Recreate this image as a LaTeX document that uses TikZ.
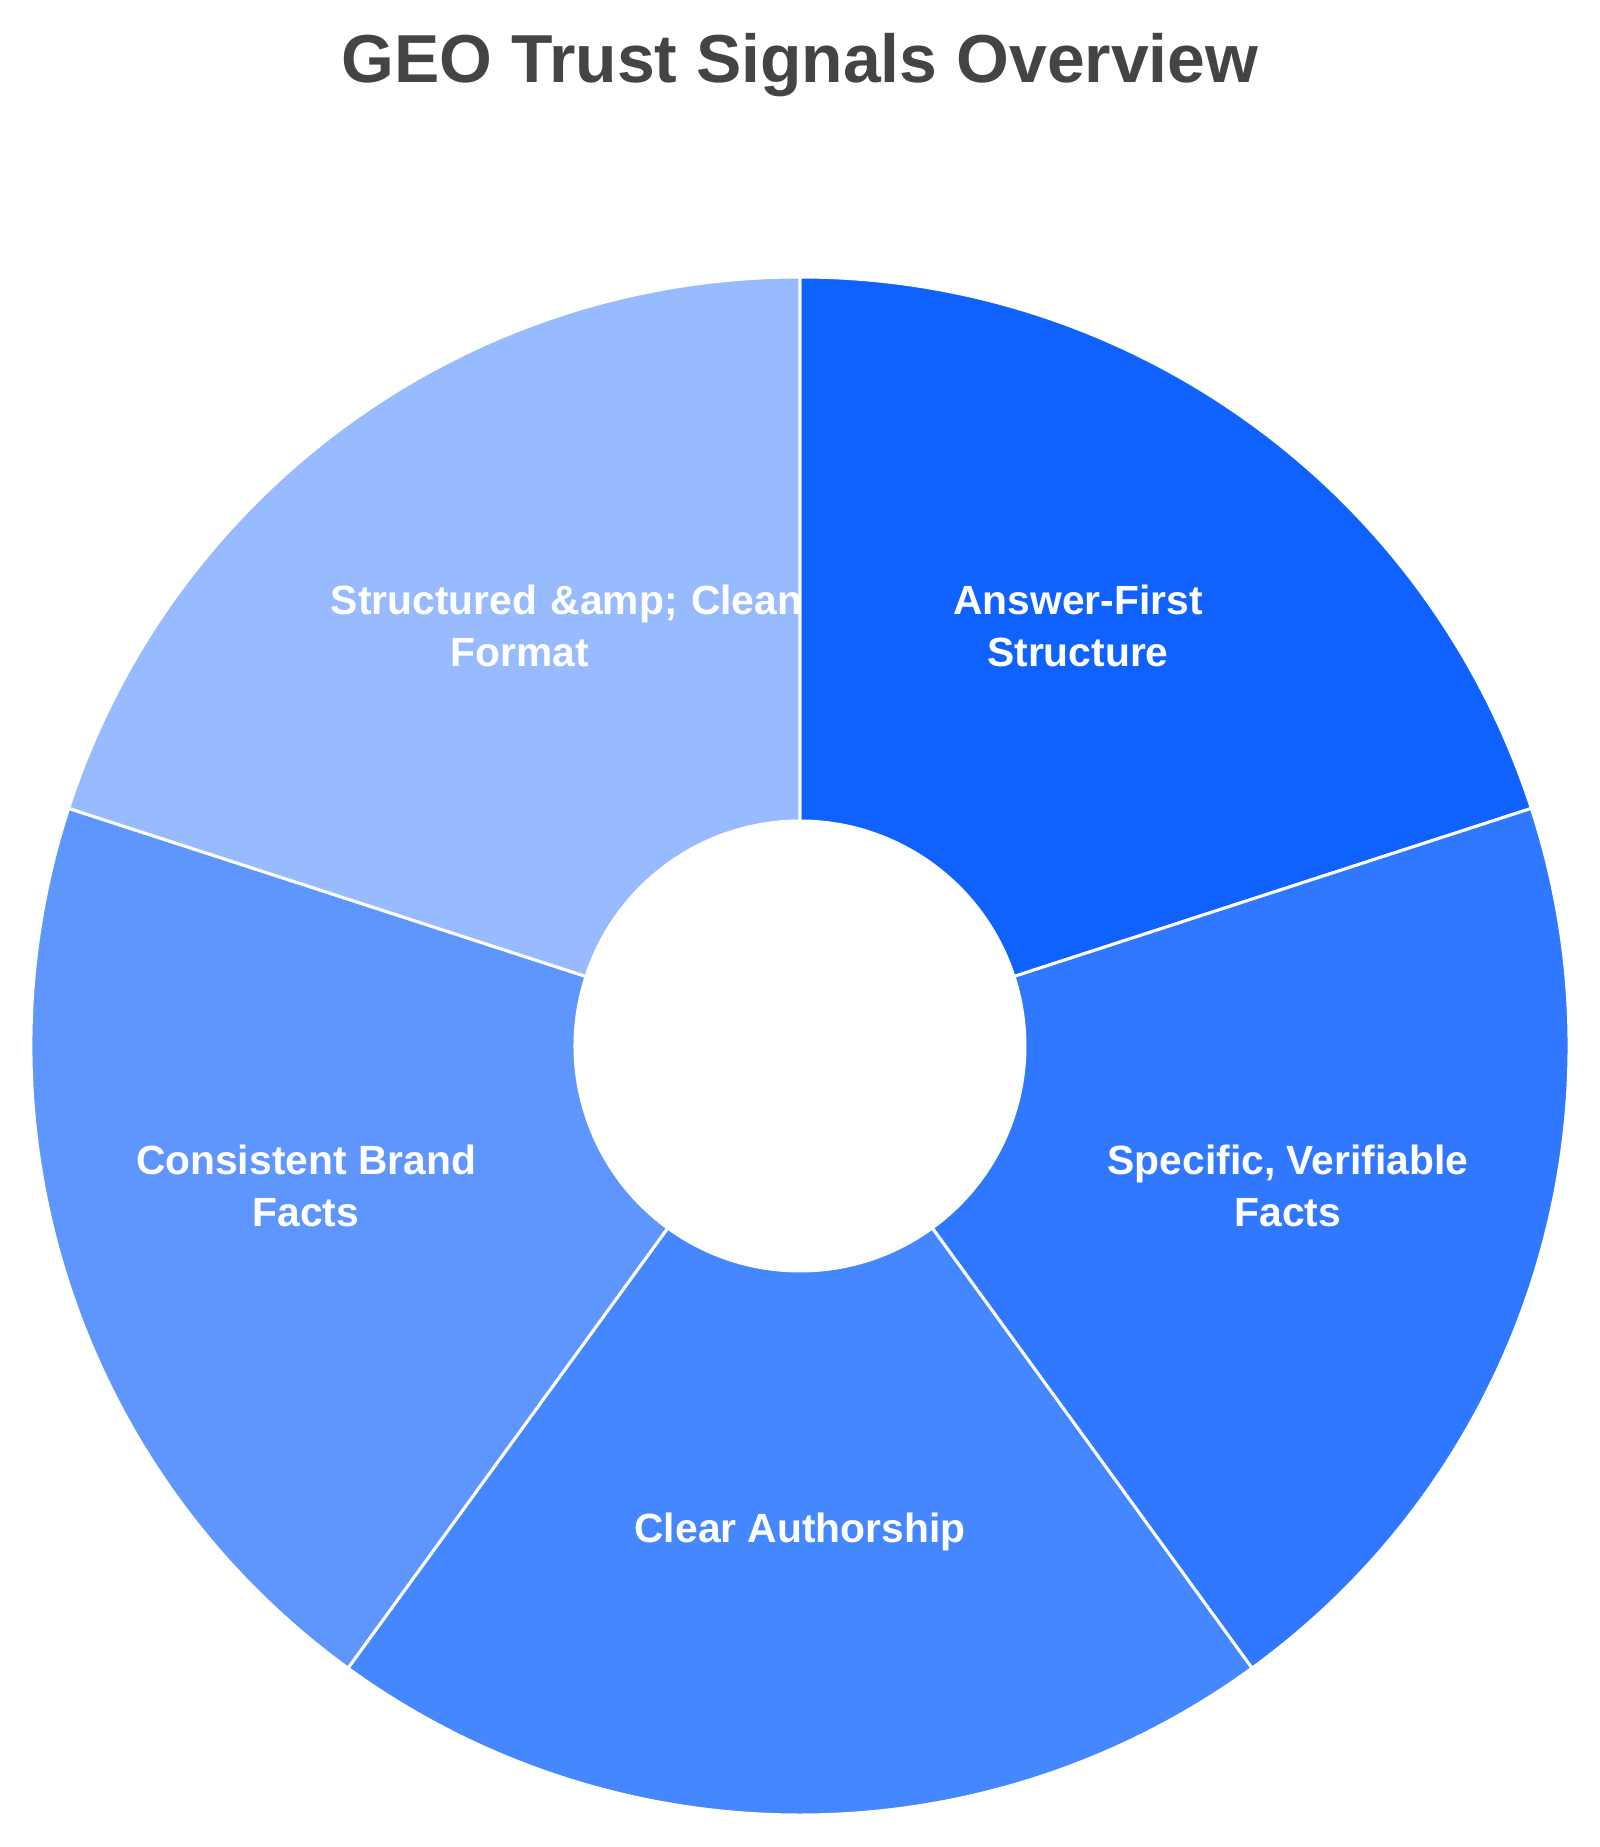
\documentclass[tikz,border=0pt]{standalone}
\usepackage{fontspec}
\setmainfont{Liberation Sans}
\usepackage{xcolor}
\usepackage{tikz}
\usetikzlibrary{positioning}
\definecolor{titlegray}{HTML}{444444}
\definecolor{segA}{HTML}{0F62FE}
\definecolor{segB}{HTML}{3078FF}
\definecolor{segC}{HTML}{4587FF}
\definecolor{segD}{HTML}{5F96FE}
\definecolor{segE}{HTML}{98BBFF}

\begin{document}
\begin{tikzpicture}[
  x=0.01cm, y=0.01cm,
  title/.style={font=\fontsize{19.3}{23}\selectfont\bfseries, text=titlegray, inner sep=0pt},
  lbl/.style={font=\fontsize{11.6}{14.8}\selectfont\bfseries, text=white, align=center, inner sep=0pt},
  seg/.style={draw=white, line width=0.85pt}
]
  \useasboundingbox (-800,-801) rectangle (800,1046);

  % donut: five equal slices, starting at 12 o'clock
  \foreach \a/\b/\c in {18/90/segA, -54/18/segB, -126/-54/segC, -198/-126/segD, -270/-198/segE}
    \filldraw[seg, fill=\c] (\a:225) -- (\a:769) arc[start angle=\a, end angle=\b, radius=769]
      -- (\b:225) arc[start angle=\b, end angle=\a, radius=225] -- cycle;

  \node[title, anchor=base] (ttl) at (0, 963) {GEO Trust Signals Overview};

  \node[lbl] (answer) at (278, 420) {Answer-First\\Structure};
  \node[lbl] (specific) at (488, -140) {Specific, Verifiable\\Facts};
  \node[lbl] (author) at (0, -486) {Clear Authorship};
  \node[lbl] (brand) at (-494, -140) {Consistent Brand\\Facts};
  \node[lbl, text width=3.78cm] (format) at (-280, 420) {\mbox{Structured \&amp; Clean}\\Format};

\end{tikzpicture}
\end{document}
